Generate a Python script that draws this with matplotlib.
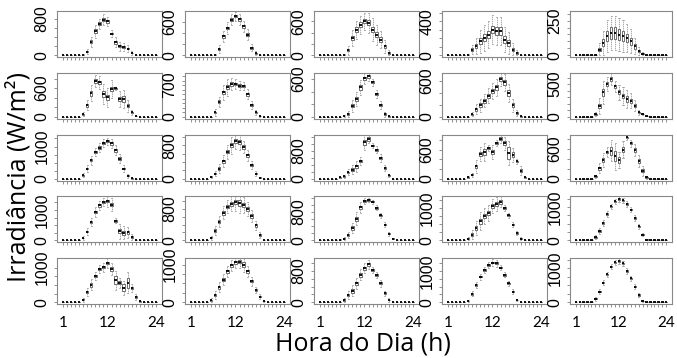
import numpy as np
import matplotlib

matplotlib.use("Agg")
import matplotlib.pyplot as plt

# hourly irradiance boxplots, 5x5 panels; lists start at hour 5 and end at hour 20
HOURS = np.arange(1, 25)
FIRST_HOUR = 5

med_r1 = [
    [0, 10, 80, 300, 530, 700, 790, 750, 480, 290, 200, 185, 150, 50, 10, 0],
    [0, 0, 10, 115, 343, 495, 645, 705, 650, 523, 373, 139, 40, 5, 0, 0],
    [0, 0, 10, 88, 307, 454, 542, 600, 572, 454, 365, 277, 159, 42, 0, 0],
    [0, 5, 67, 106, 165, 205, 243, 302, 282, 282, 185, 146, 67, 28, 3, 0],
    [0, 3, 41, 89, 137, 161, 161, 149, 137, 125, 101, 65, 29, 12, 2, 0],
]
iqr_r1 = [
    [0, 5, 25, 60, 90, 60, 60, 60, 30, 70, 50, 60, 40, 20, 5, 0],
    [0, 0, 5, 30, 50, 50, 50, 40, 50, 50, 50, 40, 20, 3, 0, 0],
    [0, 0, 8, 40, 70, 80, 80, 70, 90, 100, 90, 80, 60, 25, 0, 0],
    [0, 3, 30, 50, 70, 80, 80, 90, 90, 90, 80, 70, 40, 15, 2, 0],
    [0, 2, 25, 50, 70, 80, 80, 75, 70, 60, 50, 35, 15, 5, 0, 0],
]
whisk_r1 = [
    [0, 10, 40, 80, 100, 80, 90, 70, 60, 80, 70, 60, 50, 30, 10, 0],
    [0, 0, 10, 50, 80, 80, 70, 60, 80, 80, 70, 50, 30, 5, 0, 0],
    [0, 0, 15, 60, 100, 120, 120, 120, 130, 150, 130, 110, 80, 40, 0, 0],
    [0, 5, 40, 70, 100, 110, 120, 130, 120, 120, 110, 90, 60, 25, 3, 0],
    [0, 3, 35, 60, 80, 80, 80, 80, 80, 70, 60, 40, 20, 8, 0, 0],
]

med_r2 = [
    [0, 56, 245, 495, 752, 719, 474, 405, 579, 593, 370, 370, 230, 92, 21, 0],
    [0, 0, 97, 331, 539, 650, 723, 723, 690, 685, 500, 260, 97, 22, 0, 0],
    [0, 0, 10, 43, 175, 281, 467, 610, 642, 547, 361, 186, 43, 5, 0, 0],
    [0, 0, 45, 129, 195, 267, 351, 430, 491, 630, 574, 400, 195, 60, 5, 0],
    [0, 41, 168, 373, 500, 577, 465, 373, 321, 271, 245, 168, 67, 41, 5, 0],
]
iqr_r2 = [
    [0, 20, 60, 100, 80, 70, 130, 110, 100, 10, 90, 110, 60, 30, 8, 0],
    [0, 0, 40, 60, 80, 90, 70, 60, 60, 50, 60, 50, 30, 10, 0, 0],
    [0, 0, 5, 25, 50, 60, 70, 60, 50, 30, 40, 40, 20, 3, 0, 0],
    [0, 0, 20, 50, 60, 60, 70, 80, 80, 70, 80, 90, 60, 30, 3, 0],
    [0, 15, 70, 100, 60, 50, 40, 60, 70, 80, 70, 50, 20, 10, 0, 0],
]
whisk_r2 = [
    [0, 30, 80, 120, 90, 100, 150, 150, 130, 20, 120, 130, 90, 40, 10, 0],
    [0, 0, 50, 80, 120, 150, 100, 80, 70, 60, 80, 60, 40, 15, 0, 0],
    [0, 0, 10, 40, 70, 80, 90, 60, 50, 40, 50, 50, 30, 5, 0, 0],
    [0, 0, 30, 60, 80, 80, 90, 100, 100, 80, 100, 100, 80, 40, 5, 0],
    [0, 25, 90, 120, 80, 70, 60, 90, 100, 100, 80, 60, 30, 15, 0, 0],
]

med_r3 = [
    [0, 112, 319, 577, 837, 961, 1116, 1166, 1094, 887, 629, 319, 93, 10, 0, 0],
    [0, 48, 126, 245, 419, 643, 800, 900, 870, 760, 560, 320, 120, 30, 0, 0],
    [0, 38, 67, 181, 257, 352, 514, 1047, 1142, 952, 828, 590, 305, 95, 5, 0],
    [0, 28, 83, 255, 511, 552, 635, 552, 738, 828, 738, 530, 497, 359, 166, 28],
    [0, 47, 213, 380, 534, 560, 447, 380, 580, 827, 713, 580, 360, 160, 27, 0],
]
iqr_r3 = [
    [0, 30, 60, 80, 70, 80, 60, 60, 80, 90, 80, 60, 30, 5, 0, 0],
    [0, 15, 40, 60, 80, 80, 100, 100, 100, 80, 70, 50, 30, 10, 0, 0],
    [0, 10, 20, 50, 80, 90, 60, 150, 100, 40, 60, 60, 50, 20, 2, 0],
    [0, 10, 20, 80, 80, 120, 30, 90, 30, 60, 90, 250, 100, 30, 60, 10],
    [0, 15, 60, 90, 50, 160, 200, 110, 100, 30, 40, 70, 70, 60, 15, 0],
]
whisk_r3 = [
    [0, 40, 80, 100, 90, 100, 90, 80, 100, 110, 100, 70, 40, 10, 0, 0],
    [0, 20, 50, 80, 100, 120, 150, 130, 130, 100, 90, 70, 40, 15, 0, 0],
    [0, 15, 30, 60, 90, 100, 80, 150, 80, 50, 70, 80, 60, 30, 3, 0],
    [0, 15, 30, 90, 100, 120, 50, 100, 50, 60, 90, 120, 100, 40, 60, 15],
    [0, 20, 70, 100, 80, 130, 170, 110, 120, 40, 50, 80, 80, 70, 20, 0],
]

med_r4 = [
    [0, 76, 290, 600, 930, 1150, 1260, 1290, 1180, 640, 300, 250, 260, 120, 15, 0],
    [0, 60, 250, 480, 700, 860, 940, 980, 950, 900, 800, 620, 380, 140, 10, 0],
    [0, 10, 47, 141, 348, 612, 932, 1120, 1139, 1092, 913, 706, 442, 179, 47, 0],
    [0, 52, 175, 381, 587, 742, 845, 1050, 1122, 1185, 1000, 773, 484, 227, 52, 0],
    [0, 90, 270, 520, 790, 1020, 1170, 1240, 1200, 1090, 920, 670, 420, 170, 20, 0],
]
iqr_r4 = [
    [0, 30, 60, 80, 90, 80, 70, 80, 120, 40, 150, 120, 100, 60, 10, 0],
    [0, 25, 70, 80, 90, 90, 100, 120, 150, 120, 100, 90, 70, 40, 5, 0],
    [0, 5, 20, 50, 100, 120, 100, 50, 30, 30, 40, 40, 40, 30, 10, 0],
    [0, 30, 80, 130, 150, 130, 120, 130, 120, 100, 40, 40, 40, 40, 20, 0],
    [0, 30, 50, 50, 50, 40, 40, 40, 40, 40, 40, 40, 40, 30, 10, 0],
]
whisk_r4 = [
    [0, 40, 80, 100, 110, 100, 100, 150, 150, 60, 170, 150, 120, 70, 15, 0],
    [0, 35, 90, 110, 120, 120, 150, 160, 180, 150, 120, 100, 80, 50, 10, 0],
    [0, 10, 30, 60, 100, 120, 100, 60, 40, 40, 50, 50, 50, 40, 15, 0],
    [0, 40, 100, 150, 200, 180, 180, 150, 150, 120, 60, 60, 60, 50, 30, 0],
    [0, 40, 70, 70, 70, 60, 60, 70, 60, 60, 60, 60, 60, 40, 15, 0],
]

med_r5 = [
    [0, 77, 290, 510, 750, 960, 1010, 1130, 960, 640, 560, 420, 560, 420, 150, 30],
    [0, 60, 200, 400, 600, 820, 980, 1060, 1080, 1000, 820, 560, 330, 150, 40, 0],
    [0, 5, 59, 186, 288, 483, 695, 864, 965, 822, 695, 483, 229, 59, 17, 0],
    [0, 42, 265, 551, 816, 1028, 1187, 1261, 1240, 1102, 870, 604, 339, 74, 5, 0],
    [0, 98, 314, 578, 823, 1049, 1176, 1215, 1147, 921, 706, 461, 216, 39, 0, 0],
]
iqr_r5 = [
    [0, 30, 60, 120, 60, 60, 60, 80, 100, 250, 80, 200, 300, 60, 60, 15],
    [0, 25, 60, 80, 80, 80, 80, 80, 100, 140, 90, 70, 50, 40, 15, 0],
    [0, 5, 30, 60, 80, 80, 80, 80, 70, 50, 50, 50, 40, 20, 5, 0],
    [0, 15, 40, 50, 50, 50, 40, 50, 60, 50, 40, 40, 40, 20, 3, 0],
    [0, 30, 40, 40, 40, 40, 40, 40, 40, 40, 40, 40, 40, 20, 0, 0],
]
whisk_r5 = [
    [0, 40, 80, 100, 80, 80, 100, 100, 120, 150, 100, 100, 150, 80, 60, 20],
    [0, 35, 80, 100, 100, 100, 100, 100, 120, 120, 100, 80, 60, 50, 20, 0],
    [0, 10, 40, 80, 100, 100, 100, 90, 80, 60, 60, 60, 50, 30, 10, 0],
    [0, 20, 60, 70, 70, 70, 70, 80, 80, 60, 60, 60, 50, 30, 5, 0],
    [0, 40, 60, 60, 60, 60, 60, 60, 60, 60, 60, 60, 50, 30, 0, 0],
]

# labelled y tick of each panel and top of its data range
y_label_value = [
    [800, 600, 600, 400, 250],
    [600, 700, 600, 600, 500],
    [1000, 800, 800, 600, 600],
    [1000, 800, 800, 1000, 1000],
    [1000, 1000, 800, 1000, 1000],
]
y_top = [
    [941, 770, 752, 501, 307],
    [890, 941, 677, 711, 652],
    [1320, 1014, 1218, 882, 852],
    [1406, 1090, 1203, 1316, 1278],
    [1227, 1129, 1082, 1355, 1252],
]
TICK_STEP = {250: 50, 400: 100, 500: 100, 600: 200, 700: 100, 800: 200, 1000: 250}
X_LABELS = {1: "1", 12: "12", 24: "24"}

MED = [med_r1, med_r2, med_r3, med_r4, med_r5]
IQR = [iqr_r1, iqr_r2, iqr_r3, iqr_r4, iqr_r5]
WHISK = [whisk_r1, whisk_r2, whisk_r3, whisk_r4, whisk_r5]

W, H = 677, 358
COL_LEFT = [57, 185, 314, 442, 570]
COL_W = [105, 105, 105, 105, 102]
ROW_TOP = [11, 72.5, 134.5, 196, 258]
PANEL_H = 46

TICK_FONT = ["Liberation Sans Narrow", "Liberation Sans", "DejaVu Sans"]
LABEL_FONT = ["Lato", "DejaVu Sans"]
TITLE_FONT = ["Open Sans", "DejaVu Sans"]


def box_stats(med, iqr, whisk):
    stats = []
    for hour in HOURS:
        i = hour - FIRST_HOUR
        if 0 <= i < len(med):
            m, q, w = med[i], iqr[i], whisk[i]
        else:
            m = q = w = 0
        q1 = max(m - q / 2, 0)
        q3 = m + q / 2
        stats.append(dict(med=m, q1=q1, q3=q3, whislo=max(q1 - w, 0), whishi=q3 + w, fliers=[]))
    return stats


fig = plt.figure(figsize=(W / 100, H / 100), dpi=100)

for r in range(5):
    for c in range(5):
        ax = fig.add_axes([COL_LEFT[c] / W, 1 - (ROW_TOP[r] + PANEL_H) / H, COL_W[c] / W, PANEL_H / H])
        ax.bxp(
            box_stats(MED[r][c], IQR[r][c], WHISK[r][c]),
            positions=HOURS,
            widths=0.6,
            capwidths=0.3,
            patch_artist=True,
            showfliers=False,
            boxprops=dict(facecolor="white", edgecolor="#333333", linewidth=0.5),
            medianprops=dict(color="black", linewidth=1.3),
            whiskerprops=dict(color="#8a8a8a", linewidth=0.5, linestyle=(0, (2, 1))),
            capprops=dict(color="#8a8a8a", linewidth=0.5),
        )
        top = y_top[r][c]
        lab = y_label_value[r][c]
        ax.set_xlim(-0.46, 25.46)
        ax.set_ylim(-0.04 * top, 1.04 * top)

        ax.set_xticks(HOURS)
        if r == 4:
            ax.set_xticklabels([X_LABELS.get(h, "") for h in HOURS], fontsize=11, family=LABEL_FONT)
        else:
            ax.set_xticklabels([])

        ticks = np.arange(0, top + 1, TICK_STEP[lab])
        ax.set_yticks(ticks)
        ax.set_yticklabels(
            [str(int(t)) if t in (0, lab) else "" for t in ticks],
            rotation=90, va="center", fontsize=11.5, family=TICK_FONT,
        )
        ax.tick_params(axis="both", length=2.5, width=0.5, color="#666666")
        ax.tick_params(axis="y", pad=3)
        ax.tick_params(axis="x", pad=6)
        for spine in ax.spines.values():
            spine.set_color("#888888")
            spine.set_linewidth(0.8)

fig.text(19 / W, 1 - 177 / H, "Irradiância (W/m²)", rotation=90, ha="center", va="center",
         fontsize=18, family=TITLE_FONT)
fig.text(363 / W, 1 - 344 / H, "Hora do Dia (h)", ha="center", va="center",
         fontsize=18, family=TITLE_FONT)

fig.savefig("out.png", dpi=100)
